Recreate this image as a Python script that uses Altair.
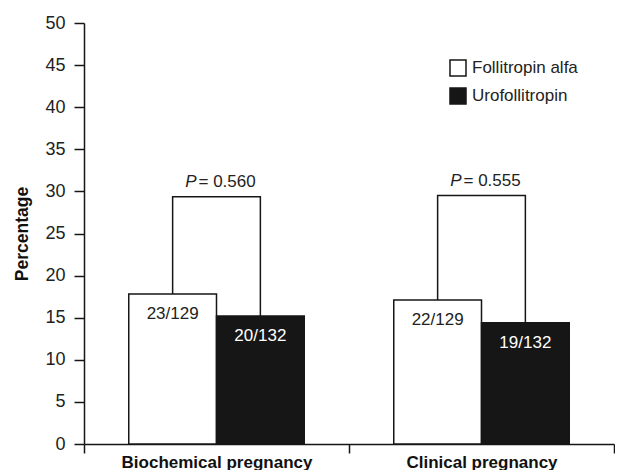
import altair as alt
import pandas as pd

categories = ["Biochemical pregnancy", "Clinical pregnancy"]
groups = ["Follitropin alfa", "Urofollitropin"]
follitropin = [17.8, 17.1]
urofollitropin = [15.2, 14.4]
follitropin_labels = ["23/129", "22/129"]
urofollitropin_labels = ["20/132", "19/132"]
bracket_levels = [29.35, 29.5]
p_values = ["0.560", "0.555"]
y_ticks = list(range(0, 51, 5))

FONT = "Liberation Sans"
INK = "#161616"

rows = []
for i, c in enumerate(categories):
    rows.append(dict(category=c, group=groups[0], value=follitropin[i], label=follitropin_labels[i]))
    rows.append(dict(category=c, group=groups[1], value=urofollitropin[i], label=urofollitropin_labels[i]))
bars_df = pd.DataFrame(rows)

br = []
for i, c in enumerate(categories):
    br += [
        dict(category=c, group=groups[0], value=follitropin[i], order=0),
        dict(category=c, group=groups[0], value=bracket_levels[i], order=1),
        dict(category=c, group=groups[1], value=bracket_levels[i], order=2),
        dict(category=c, group=groups[1], value=urofollitropin[i], order=3),
    ]
bracket_df = pd.DataFrame(br)

p_df = pd.DataFrame(dict(category=categories, value=bracket_levels,
                         p=["= " + p for p in p_values], pp=["P"] * len(categories)))

x_enc = alt.X(
    "category:N", sort=categories,
    scale=alt.Scale(paddingInner=0, paddingOuter=0),
    axis=alt.Axis(title=None, labelAngle=0, tickBand="extent", labelFontWeight="bold",
                  labelFontSize=17, labelLimit=0, tickSize=9, domainWidth=1.5, tickWidth=1.5,
                  domainColor=INK, tickColor=INK, labelPadding=1, labelColor="#111"),
)
xoff = alt.XOffset("group:N", sort=groups, scale=alt.Scale(paddingInner=0, paddingOuter=0.51))
y_enc = alt.Y(
    "value:Q", scale=alt.Scale(domain=[0, 50]),
    axis=alt.Axis(values=y_ticks, title="Percentage", grid=False, labelFontSize=18,
                  titleFontSize=17.5, titleFontWeight="bold", titlePadding=13,
                  tickSize=10, labelPadding=9, domainWidth=1.5, tickWidth=1.5,
                  domainColor=INK, tickColor=INK, labelColor="#222", titleColor="#111"),
)

bars = alt.Chart(bars_df).mark_bar(stroke=INK, strokeWidth=1.5).encode(
    x=x_enc, xOffset=xoff, y=y_enc,
    fill=alt.Fill("group:N", sort=groups,
                  scale=alt.Scale(domain=groups, range=["#ffffff", INK]),
                  legend=alt.Legend(title=None, orient="none", legendX=365, legendY=36,
                                    symbolType="square", symbolSize=256,
                                    symbolStrokeColor=INK, symbolStrokeWidth=1.5,
                                    labelFontSize=17, labelColor="#222", rowPadding=6,
                                    labelOffset=5)),
)

bar_text = alt.Chart(bars_df).mark_text(baseline="middle", dy=20, fontSize=17).encode(
    x=x_enc, xOffset=xoff, y=y_enc, text="label:N",
    color=alt.Color("group:N", scale=alt.Scale(domain=groups, range=["#222222", "#ffffff"]),
                    legend=None),
)

bracket = alt.Chart(bracket_df).mark_line(color=INK, strokeWidth=1.5).encode(
    x=x_enc, xOffset=xoff, y=y_enc, detail="category:N", order="order:Q",
)

p_italic = alt.Chart(p_df).mark_text(align="right", baseline="alphabetic", dx=-20, dy=-10,
                                      fontSize=17, fontStyle="italic", color="#222").encode(
    x=x_enc, y=y_enc, text="pp:N")
p_text = alt.Chart(p_df).mark_text(align="left", baseline="alphabetic", dx=-18, dy=-10,
                                    fontSize=17, color="#222").encode(
    x=x_enc, y=y_enc, text="p:N")

chart = alt.layer(bars, bracket, bar_text, p_italic, p_text).resolve_scale(
    color="independent"
).properties(
    width=530, height=421,
    padding={"left": 5, "top": 6, "right": 0, "bottom": 0},
).configure(font=FONT).configure_view(stroke=None)

chart.save("out.html", embed_options={"renderer": "svg", "actions": False})
